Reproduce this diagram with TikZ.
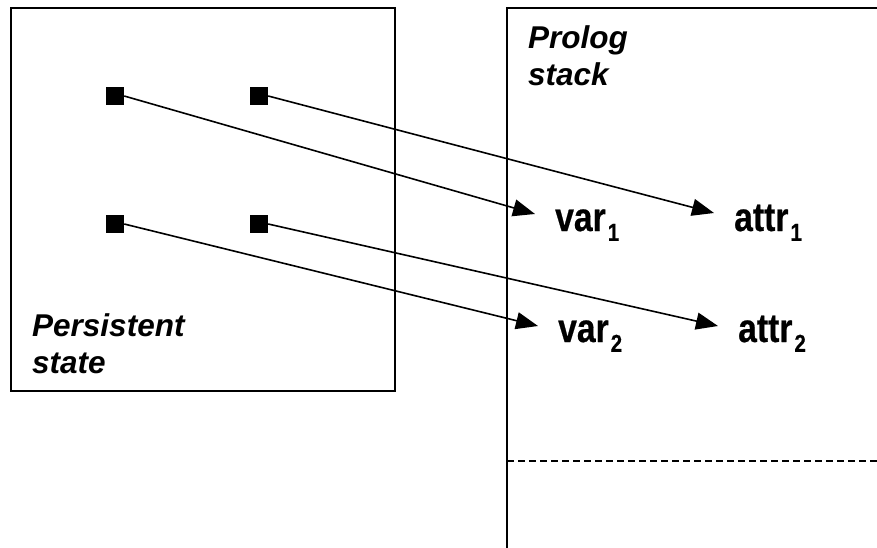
\documentclass[tikz,border=0pt]{standalone}
\usepackage{fontspec}
\setmainfont{Liberation Sans}
\newfontfamily\cellfont[FakeBold=0.6]{Liberation Sans}
\usetikzlibrary{arrows.meta}

% subscripted label in bold sans, set slightly tall
\newcommand{\sublabel}[2]{\scalebox{1.02}[1.22]{#1\kern2pt\raisebox{-8pt}{\fontsize{20}{20}\selectfont #2}}}

\begin{document}
\begin{tikzpicture}[x=1pt,y=-1pt,
  frame/.style={line width=2.2pt},
  slot/.style={fill=black,draw=none,minimum size=18pt,inner sep=0pt},
  title/.style={font=\fontsize{31.5}{37}\selectfont\bfseries\itshape,align=left,inner sep=0pt,anchor=north west},
  cell/.style={font=\cellfont\fontsize{33}{33}\selectfont\bfseries,inner sep=0pt,anchor=base west},
  ptr/.style={line width=1.6pt,-{Triangle[length=22pt,width=17pt]}}]
\useasboundingbox (0,0) rectangle (877,548);

% persistent state box
\draw[frame] (11,8) rectangle (395,391);
% prolog stack (open to the right and bottom)
\draw[frame] (877,8) -- (507,8) -- (507,548);
\draw[line width=1.3pt,dash pattern=on 7pt off 4pt] (507,461) -- (877,461);

\node[title] (ps) at (32,313) {Persistent\\state};
\node[title] (pst) at (528,25) {Prolog\\stack};

% references held in the persistent state
\node[slot] (s1) at (115,96) {};
\node[slot] (s2) at (259,96) {};
\node[slot] (s3) at (115,224) {};
\node[slot] (s4) at (259,224) {};

% cells on the stack
\node[cell] (v1) at (555,231) {\sublabel{var}{1}};
\node[cell] (a1) at (734,231) {\sublabel{attr}{1}};
\node[cell] (v2) at (558,342) {\sublabel{var}{2}};
\node[cell] (a2) at (738,342) {\sublabel{attr}{2}};

\coordinate (tv1) at (535,214);
\coordinate (ta1) at (714,213);
\coordinate (tv2) at (538,326);
\coordinate (ta2) at (718,326);

\draw[ptr] (s1.east) -- (tv1);
\draw[ptr] (s2.east) -- (ta1);
\draw[ptr] (s3.east) -- (tv2);
\draw[ptr] (s4.east) -- (ta2);
\end{tikzpicture}
\end{document}
